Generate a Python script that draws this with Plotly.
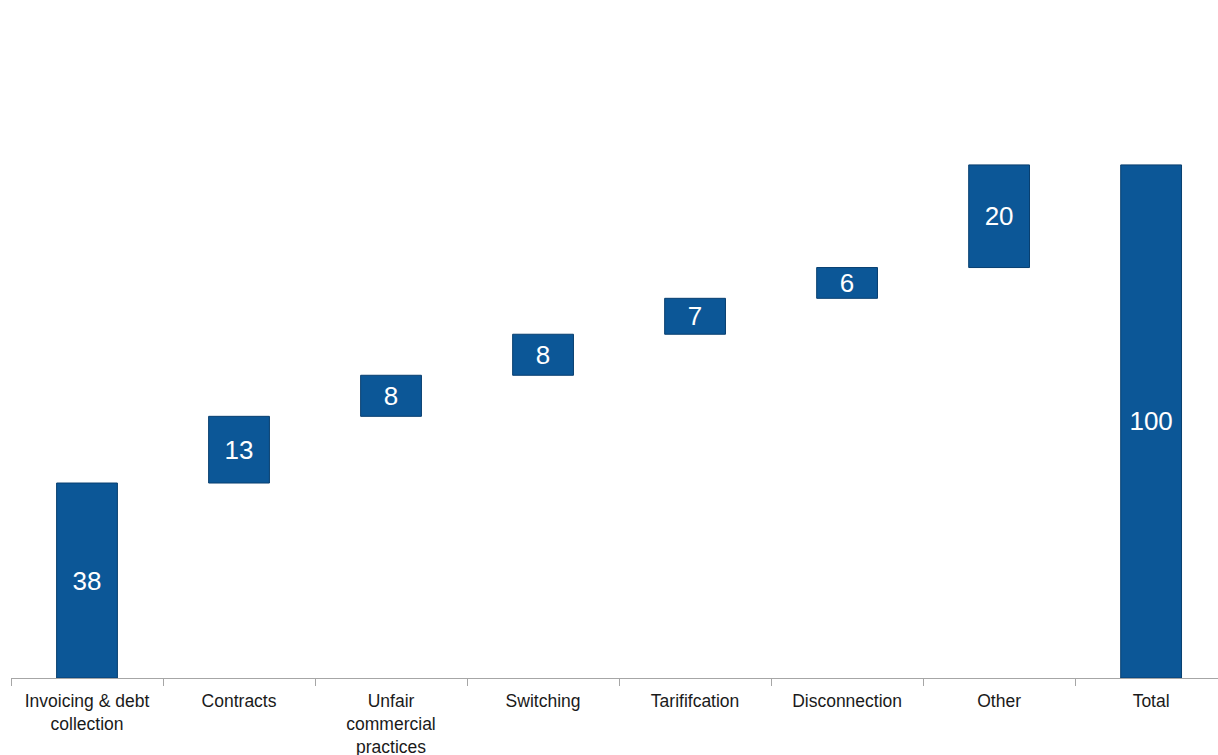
import plotly.graph_objects as go

categories = ["Invoicing & debt<br>collection", "Contracts", "Unfair<br>commercial<br>practices",
              "Switching", "Tarififcation", "Disconnection", "Other", "Total"]
values = [38, 13, 8, 8, 7, 6, 20, 100]
measures = ["relative"] * 7 + ["total"]
labels = ["38", "13", "8", "8", "7", "6", "20", "100"]

bar_style = dict(marker=dict(color="#0C5797", line=dict(color="#083F70", width=1)))

fig = go.Figure(go.Waterfall(
    x=categories,
    y=values,
    measure=measures,
    text=labels,
    textposition="inside",
    insidetextanchor="middle",
    textangle=0,
    textfont=dict(family="Liberation Sans, Arial", size=26, color="white"),
    constraintext="none",
    connector=dict(visible=False),
    increasing=bar_style,
    totals=bar_style,
    decreasing=bar_style,
    width=0.4,
    cliponaxis=False,
))

fig.update_layout(
    width=1218, height=755,
    margin=dict(l=11, r=0, t=11, b=77, autoexpand=False),
    paper_bgcolor="white", plot_bgcolor="white",
    showlegend=False,
    font=dict(family="Liberation Sans, Arial", size=17.5, color="#1A1A1A"),
    xaxis=dict(
        type="category",
        range=[-0.5, 7.44],
        automargin=False,
        showline=True, linecolor="#A6A6A6", linewidth=1,
        ticks="outside", tickson="boundaries", ticklen=7, tickcolor="#A6A6A6",
        ticklabelstandoff=7,
        showgrid=False, zeroline=False,
        tickfont=dict(size=17.5, color="#1A1A1A"),
    ),
    yaxis=dict(
        range=[0, 130], visible=False, showgrid=False, zeroline=False, automargin=False,
    ),
)

fig.write_html(
    "out.html",
    config={"displayModeBar": False},
    post_script="document.body.style.margin='0';document.body.style.overflow='hidden';",
)
